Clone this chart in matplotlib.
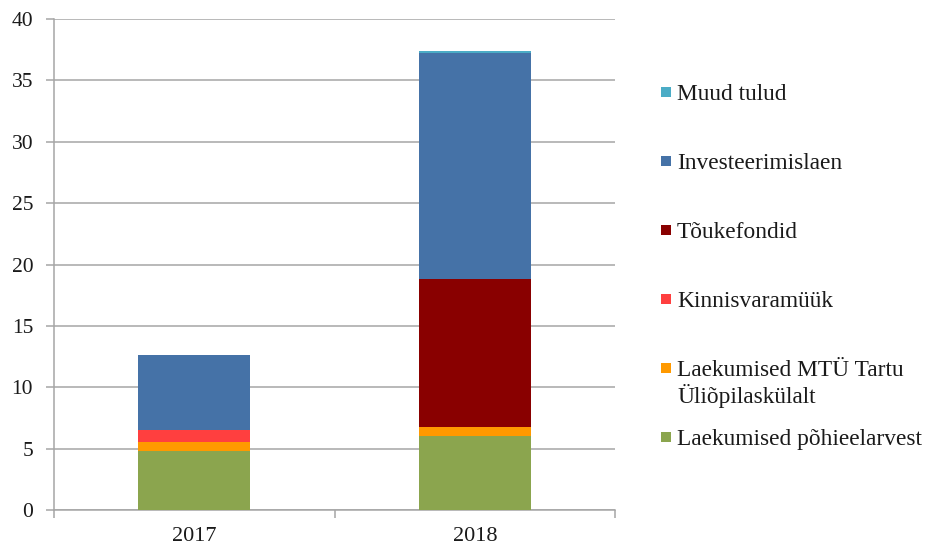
import matplotlib
matplotlib.use("Agg")
import matplotlib.pyplot as plt
from matplotlib.patches import Rectangle
import numpy as np

plt.rcParams['font.family'] = ['Liberation Serif', 'DejaVu Serif']

years = ["2017", "2018"]
series_names = [
    "Laekumised põhieelarvest",
    "Laekumised MTÜ Tartu\nÜliõpilaskülalt",
    "Kinnisvaramüük",
    "Tõukefondid",
    "Investeerimislaen",
    "Muud tulud",
]
pohieelarve = [4.8, 6.05]
mtu = [0.7, 0.75]
kinnisvara = [1.05, 0.0]
toukefondid = [0.0, 12.0]
laen = [6.05, 18.45]
muud = [0.03, 0.12]
series_values = [pohieelarve, mtu, kinnisvara, toukefondid, laen, muud]
colors = ["#8BA54E", "#FF9900", "#FF3F3F", "#890000", "#4572A7", "#4BACC6"]
yticks = [0, 5, 10, 15, 20, 25, 30, 35, 40]

W, H = 933, 550
fig = plt.figure(figsize=(W / 100, H / 100), dpi=100)
ax = fig.add_axes([54 / W, 1 - 510 / H, 561 / W, 491 / H])

x = np.arange(len(years))
bottom = np.zeros(len(years))
for vals, col in zip(series_values, colors):
    v = np.array(vals)
    ax.bar(x, v, width=0.4, bottom=bottom, color=col, zorder=3, linewidth=0)
    bottom += v

ax.set_xlim(-0.5, 1.5)
ax.set_ylim(0, 40)
ax.set_yticks(yticks)
ax.set_yticklabels([str(t) for t in yticks], fontsize=15.5, color="#1a1a1a")
ax.yaxis.grid(True, color="#A6A6A6", linewidth=1.1, zorder=0)
ax.set_xticks(x)
ax.set_xticklabels(years, fontsize=16, color="#1a1a1a")
ax.set_xticks([-0.5, 0.5, 1.5], minor=True)
ax.tick_params(axis='x', which='major', length=0, pad=12)
ax.tick_params(axis='x', which='minor', length=6, color="#A6A6A6", width=1.1)
ax.tick_params(axis='y', length=6, color="#A6A6A6", width=1.1, pad=9)
for s in ["top", "right"]:
    ax.spines[s].set_visible(False)
for s in ["left", "bottom"]:
    ax.spines[s].set_color("#A6A6A6")
    ax.spines[s].set_linewidth(1.1)

# legend (top to bottom: reverse of stacking order)
leg_names = series_names[::-1]
leg_colors = colors[::-1]
for i, (name, col) in enumerate(zip(leg_names, leg_colors)):
    base = 100 + 69 * i
    yc = base - 8
    fig.patches.append(Rectangle((661 / W, 1 - (yc + 5) / H), 10 / W, 10 / H,
                                 transform=fig.transFigure, facecolor=col,
                                 edgecolor="none"))
    for j, line in enumerate(name.split("\n")):
        fig.text(677 / W, 1 - (base + 27 * j) / H, line, fontsize=16.8,
                 va="baseline", ha="left", color="#1a1a1a")

fig.savefig("out.png", dpi=100)
